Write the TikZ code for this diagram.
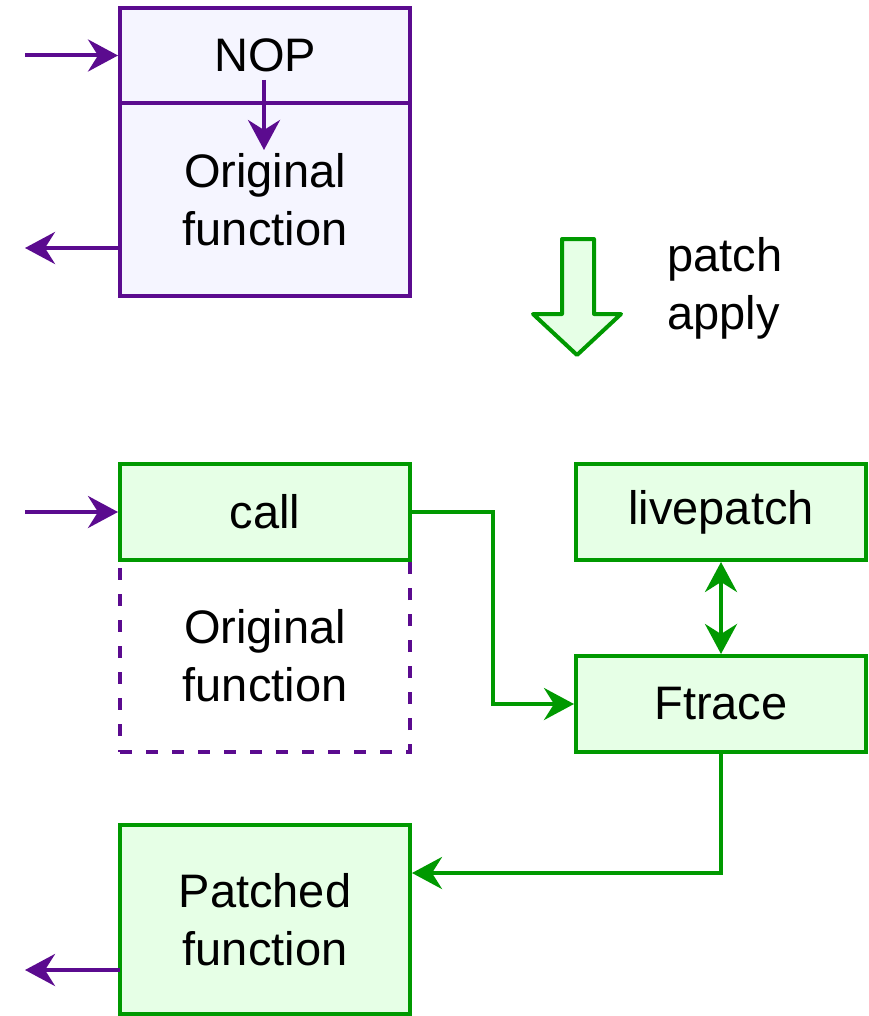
\documentclass[tikz,border=0pt]{standalone}
\usepackage{fontspec}
\setmainfont{Liberation Sans}
\usetikzlibrary{arrows.meta}
\definecolor{pstroke}{RGB}{91,11,143}
\definecolor{pfill}{RGB}{245,245,255}
\definecolor{gstroke}{RGB}{0,153,0}
\definecolor{gfill}{RGB}{230,255,230}
\tikzset{
  box/.style={draw, line width=4pt, minimum width=290pt, inner sep=0pt, align=center,
    font=\fontsize{47}{58}\selectfont},
  pbox/.style={box, draw=pstroke, fill=pfill},
  gbox/.style={box, draw=gstroke, fill=gfill},
  dbox/.style={box, draw=pstroke, dash pattern=on 12pt off 14pt},
  parrow/.style={draw=pstroke, line width=4pt, -{Stealth[length=30pt,width=32pt,inset=10pt]}},
  garrow/.style={draw=gstroke, line width=4pt, -{Stealth[length=30pt,width=32pt,inset=10pt]}},
  gdarrow/.style={draw=gstroke, line width=4pt, {Stealth[length=30pt,width=32pt,inset=10pt]}-{Stealth[length=30pt,width=32pt,inset=10pt]}},
  lbl/.style={align=left, font=\fontsize{47}{58}\selectfont, inner sep=0pt}
}
\begin{document}
\begin{tikzpicture}[x=1pt,y=-1pt]
\useasboundingbox (0,0) rectangle (868,1016);
% top group
\node[pbox, minimum height=95pt] (nop) at (265,55.5) {NOP};
\node[pbox, minimum height=193pt] (orig) at (265,199.5) {Original\\function};
\coordinate (in1) at (25,55.5);
\draw[parrow] (in1) -- (nop.west);
\coordinate (o1s) at (120,248);
\coordinate (o1e) at (25,248);
\draw[parrow] (o1s) -- (o1e);
\coordinate (ia) at (264,80);
\coordinate (ib) at (264,150);
\draw[parrow] (ia) -- (ib);
% big arrow
\draw[draw=gstroke, fill=gfill, line width=4pt, line join=round]
  (562,239) -- (594,239) -- (594,314) -- (621,314) -- (577,355) -- (533,314) -- (562,314) -- cycle;
\node[lbl, anchor=west] (pa) at (667,288) {patch\\apply};
% bottom group
\node[dbox, minimum height=192pt] (orig2) at (265,656) {Original\\function};
\node[gbox, minimum height=96pt] (call) at (265,512) {call};
\node[gbox, minimum height=96pt] (live) at (721,512) {livepatch};
\node[gbox, minimum height=96pt] (ftrace) at (721,704) {Ftrace};
\node[gbox, minimum height=189pt] (patched) at (265,919.5) {Patched\\function};
\coordinate (in2) at (25,512);
\draw[parrow] (in2) -- (call.west);
\coordinate (bend1) at (493,512);
\draw[garrow] (call.east) -- (bend1) |- (ftrace.west);
\draw[gdarrow] (live.south) -- (ftrace.north);
\draw[garrow] (ftrace.south) |- ([yshift=46.5pt]patched.east);
\coordinate (o2s) at (120,970);
\coordinate (o2e) at (25,970);
\draw[parrow] (o2s) -- (o2e);
\end{tikzpicture}
\end{document}
